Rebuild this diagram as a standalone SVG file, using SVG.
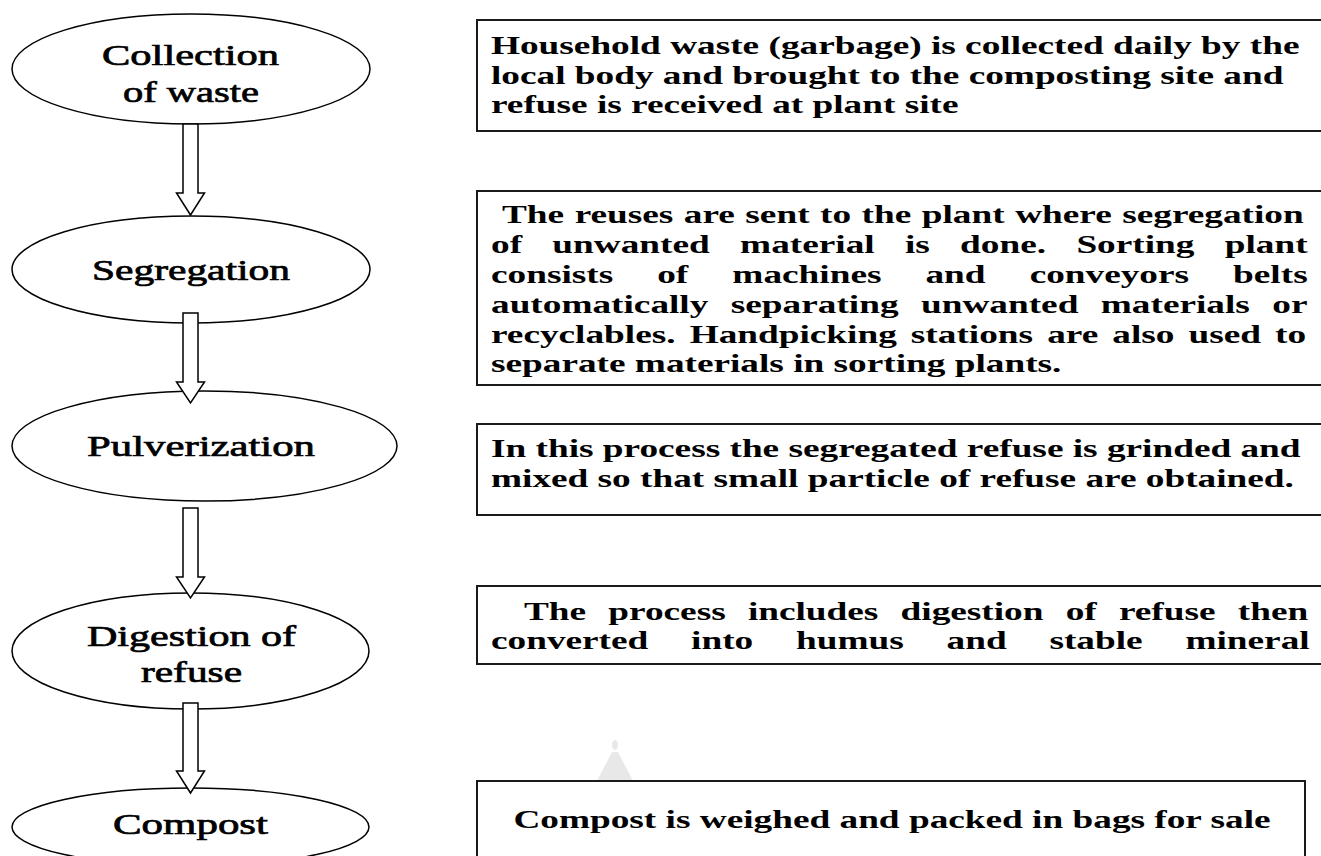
<svg xmlns="http://www.w3.org/2000/svg" width="1321" height="856" viewBox="0 0 1321 856">
<style>
.ell{fill:#fff;stroke:#000;stroke-width:1.5}
.box{fill:#fff;stroke:#1a1a1a;stroke-width:2}
.arr{fill:#fff;stroke:#000;stroke-width:1.5;stroke-linejoin:miter}
.lbl{font-family:"Liberation Serif","Times New Roman",serif;font-size:30px;fill:#000;stroke:#000;stroke-width:0.7}
.desc{font-family:"Liberation Serif","Times New Roman",serif;font-size:26px;font-weight:bold;fill:#000}
</style>
<rect width="1321" height="856" fill="#fff"/>
<g id="watermark" fill="#e8e8e8">
<ellipse cx="615" cy="745" rx="3" ry="5"/>
<polygon points="612,752 618,752 633,781 597,781"/>
</g>
<g id="box1"><rect class="box" x="477" y="20" width="870" height="111"/>
<text class="desc" transform="matrix(1.4342 0 0 1 491 54)">Household waste (garbage) is collected daily by the</text>
<text class="desc" transform="matrix(1.4342 0 0 1 491 83.5)">local body and brought to the composting site and</text>
<text class="desc" transform="matrix(1.4342 0 0 1 491 113)">refuse is received at plant site</text>
</g>
<g id="box2"><rect class="box" x="477" y="191" width="870" height="194"/>
<text class="desc" transform="matrix(1.4342 0 0 1 502 223)" word-spacing="0.83">The reuses are sent to the plant where segregation</text>
<text class="desc" transform="matrix(1.4342 0 0 1 491 253)" word-spacing="14.65">of unwanted material is done. Sorting plant</text>
<text class="desc" transform="matrix(1.4342 0 0 1 491 283)" word-spacing="24.23">consists of machines and conveyors belts</text>
<text class="desc" transform="matrix(1.4342 0 0 1 491 313)" word-spacing="9.16">automatically separating unwanted materials or</text>
<text class="desc" transform="matrix(1.4342 0 0 1 491 343)" word-spacing="3.33">recyclables. Handpicking stations are also used to</text>
<text class="desc" transform="matrix(1.4342 0 0 1 491 372)">separate materials in sorting plants.</text>
</g>
<g id="box3"><rect class="box" x="477" y="424" width="870" height="91"/>
<text class="desc" transform="matrix(1.4342 0 0 1 491 457)">In this process the segregated refuse is grinded and</text>
<text class="desc" transform="matrix(1.4342 0 0 1 491 486.5)">mixed so that small particle of refuse are obtained.</text>
</g>
<g id="box4"><rect class="box" x="477" y="586" width="870" height="78"/>
<text class="desc" transform="matrix(1.4342 0 0 1 524 620)" word-spacing="9.0">The process includes digestion of refuse then</text>
<text class="desc" transform="matrix(1.4342 0 0 1 491 649)" word-spacing="23.35">converted into humus and stable mineral</text>
</g>
<g id="box5"><rect class="box" x="477" y="781" width="828" height="100"/>
<text class="desc" text-anchor="middle" transform="matrix(1.4342 0 0 1 892 828)">Compost is weighed and packed in bags for sale</text>
</g>
<g id="n-collection"><ellipse class="ell" cx="191" cy="69" rx="179" ry="55"/>
<text class="lbl" x="102" y="65" textLength="177" lengthAdjust="spacingAndGlyphs">Collection</text>
<text class="lbl" x="123" y="102" textLength="136" lengthAdjust="spacingAndGlyphs">of waste</text>
</g>
<g id="n-segregation"><ellipse class="ell" cx="191" cy="269.5" rx="179" ry="53.5"/>
<text class="lbl" x="92" y="280" textLength="198" lengthAdjust="spacingAndGlyphs">Segregation</text>
</g>
<g id="n-pulverization"><ellipse class="ell" cx="204.5" cy="446" rx="192.5" ry="55"/>
<text class="lbl" x="87" y="456" textLength="228" lengthAdjust="spacingAndGlyphs">Pulverization</text>
</g>
<g id="n-digestion"><ellipse class="ell" cx="190.5" cy="651" rx="178.5" ry="58"/>
<text class="lbl" x="87" y="646" textLength="209" lengthAdjust="spacingAndGlyphs">Digestion of</text>
<text class="lbl" x="141" y="682" textLength="101" lengthAdjust="spacingAndGlyphs">refuse</text>
</g>
<g id="n-compost"><ellipse class="ell" cx="190.5" cy="827" rx="178.5" ry="39"/>
<text class="lbl" x="113" y="834" textLength="155" lengthAdjust="spacingAndGlyphs">Compost</text>
</g>
<g id="connectors">
<path class="arr" d="M183,124 H198 V193 H204.5 L190.5,215 L176.5,193 H183 Z"/>
<path class="arr" d="M183,313 H198 V382 H204.5 L190.5,403 L176.5,382 H183 Z"/>
<path class="arr" d="M183,508 H198 V577 H204.5 L190.5,598 L176.5,577 H183 Z"/>
<path class="arr" d="M183,703 H198 V771 H204.5 L190.5,793 L176.5,771 H183 Z"/>
</g>
</svg>
